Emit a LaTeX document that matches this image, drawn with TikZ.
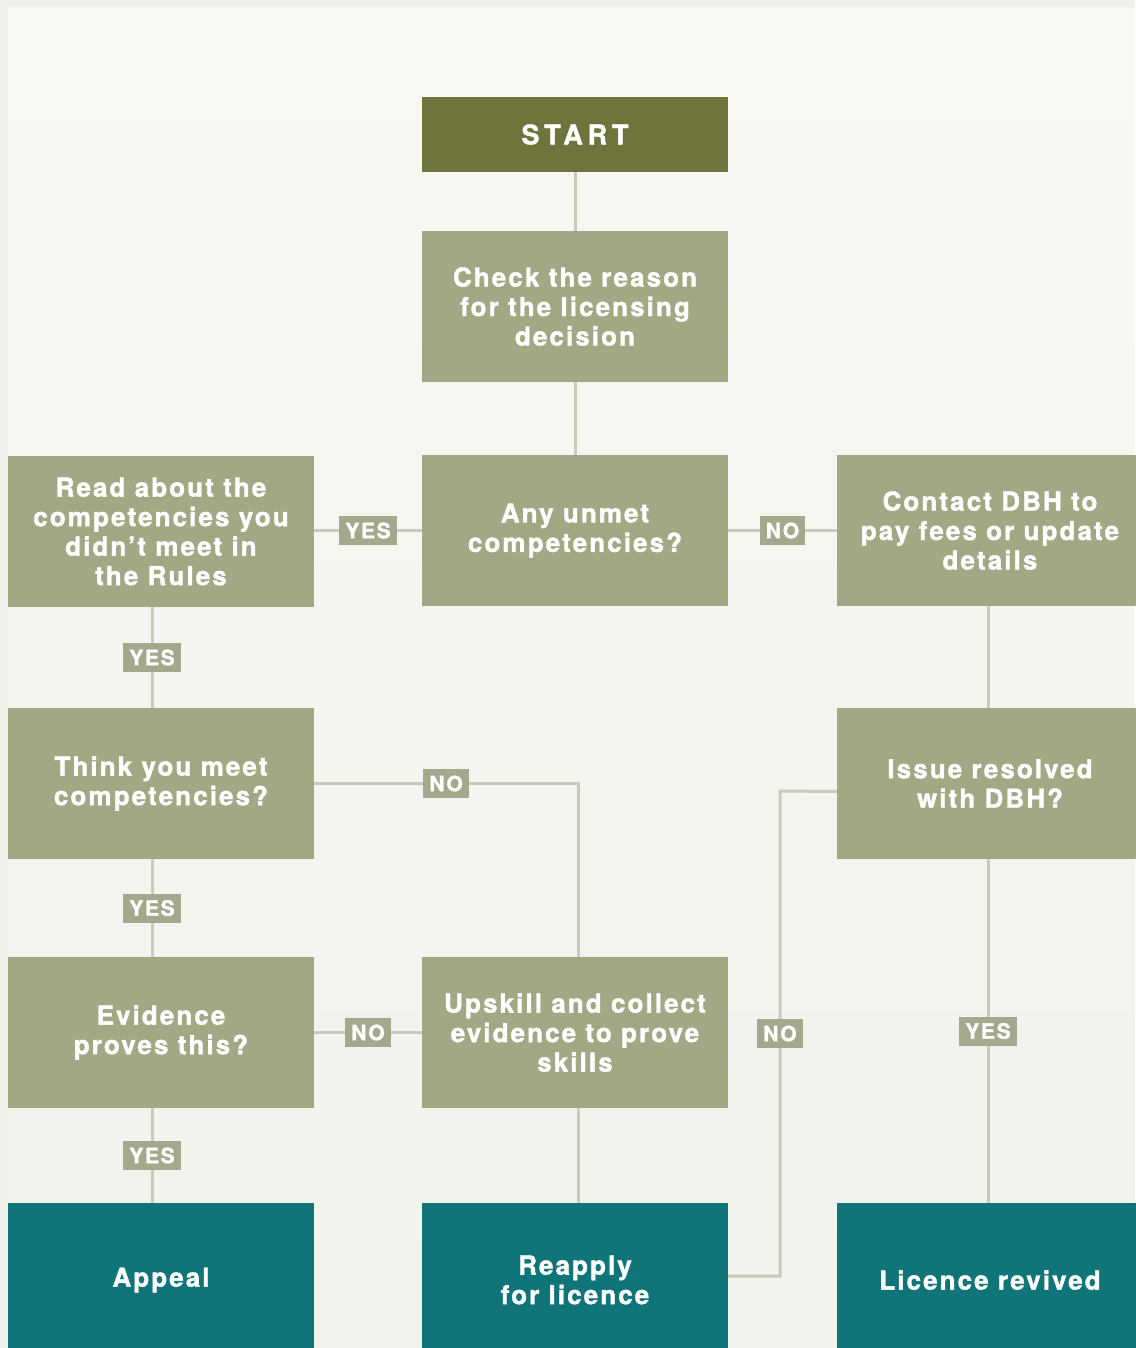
\documentclass[tikz,border=0pt]{standalone}
\usepackage{fontspec}
\setmainfont{TeX Gyre Heros}
\newfontfamily\chartfont{TeX Gyre Heros}[LetterSpace=8, BoldFeatures={FakeBold=1.4}]
\newfontfamily\startfont{TeX Gyre Heros}[LetterSpace=18, BoldFeatures={FakeBold=1.4}]
\usepackage{tikz}

\definecolor{pagebg}{HTML}{F0F1EB}
\definecolor{olive}{HTML}{6F743C}
\definecolor{sage}{HTML}{A3A784}
\definecolor{tealbox}{HTML}{0F7579}
\definecolor{linkgray}{HTML}{C9CABB}
\definecolor{taggray}{HTML}{A6A88E}

\tikzset{
	qbox/.style={fill=sage, text=white, minimum width=306pt, minimum height=151pt, inner sep=0pt, align=center, font=\chartfont\bfseries\fontsize{26}{29.5}\selectfont},
	endbox/.style={qbox, fill=tealbox, minimum height=154pt},
	startbox/.style={qbox, fill=olive, minimum height=75pt, font=\startfont\bfseries\fontsize{27}{30}\selectfont},
	tag/.style={fill=taggray, text=white, inner xsep=6pt, inner ysep=0pt, minimum height=29pt, font=\chartfont\bfseries\fontsize{21}{23}\selectfont},
	link/.style={draw=linkgray, line width=3pt}
}

\begin{document}
\begin{tikzpicture}[x=1pt, y=-1pt]
	% Background
	\useasboundingbox (0,0) rectangle (1135,1348);
	\fill[pagebg] (0,0) rectangle (1135,1348);
	\shade[top color={rgb,255:red,247;green,248;blue,243}, bottom color={rgb,255:red,241;green,242;blue,236}] (8,8) rectangle (1135,1348);

	% Boxes
	%Top
	\node (start) at (575,134.5) [startbox] {START};
	\node (check) at (575,306.5) [qbox] {Check the reason\\for the licensing\\decision};
	%Middle row
	\node (unmet) at (575,530.5) [qbox] {Any unmet\\competencies?};
	\node (read) at (161,531.5) [qbox] {Read about the\\competencies you\\didn’t meet in\\the Rules};
	\node (contact) at (990,530.5) [qbox] {Contact DBH to\\pay fees or update\\details};
	%Lower rows
	\node (think) at (161,783.5) [qbox] {Think you meet\\competencies?};
	\node (issue) at (990,783.5) [qbox] {Issue resolved\\with DBH?};
	\node (evidence) at (161,1032.5) [qbox] {Evidence\\proves this?};
	\node (upskill) at (575,1032.5) [qbox] {Upskill and collect\\evidence to prove\\skills};
	%Outcomes (bottom edge runs off the page)
	\node (appeal) at (161,1280) [endbox] {Appeal};
	\node (reapply) at (575,1280) [endbox] {Reapply\\for licence};
	\node (revived) at (990,1280) [endbox] {Licence revived};

	% Connectors
	\coordinate (upin) at ([xshift=3pt]upskill.north);
	\coordinate (issout) at ([yshift=-8pt]issue.west);
	\coordinate (bendtop) at (780,791);
	\coordinate (bendbot) at (780,1276);

	\draw[link] (start) -- (check);
	\draw[link] (check) -- (unmet);
	\draw[link] (unmet.west) -- node[tag] {YES} (read.east |- unmet.west);
	\draw[link] (unmet.east) -- node[tag] {NO} (contact.west);
	\draw[link] ([xshift=-9pt]read.south) -- node[tag] {YES} ([xshift=-9pt]think.north);
	\draw[link] ([xshift=-2pt]contact.south) -- ([xshift=-2pt]issue.north);
	\draw[link] (think.east) -- node[tag] {NO} (think.east -| upin) -- (upin);
	\draw[link] ([xshift=-9pt]think.south) -- node[tag] {YES} ([xshift=-9pt]evidence.north);
	\draw[link] (evidence.east) -- node[tag] {NO} (upskill.west);
	\draw[link] ([xshift=-9pt]evidence.south) -- node[tag] {YES} ([xshift=-9pt]appeal.north);
	\draw[link] ([xshift=3pt]upskill.south) -- ([xshift=3pt]reapply.north);
	\draw[link] (issout) -- (bendtop) -- node[tag] {NO} (bendbot) -- (reapply.east |- bendbot);
	\draw[link] ([xshift=-2pt]issue.south) -- node[tag] {YES} ([xshift=-2pt]revived.north);
\end{tikzpicture}
\end{document}
